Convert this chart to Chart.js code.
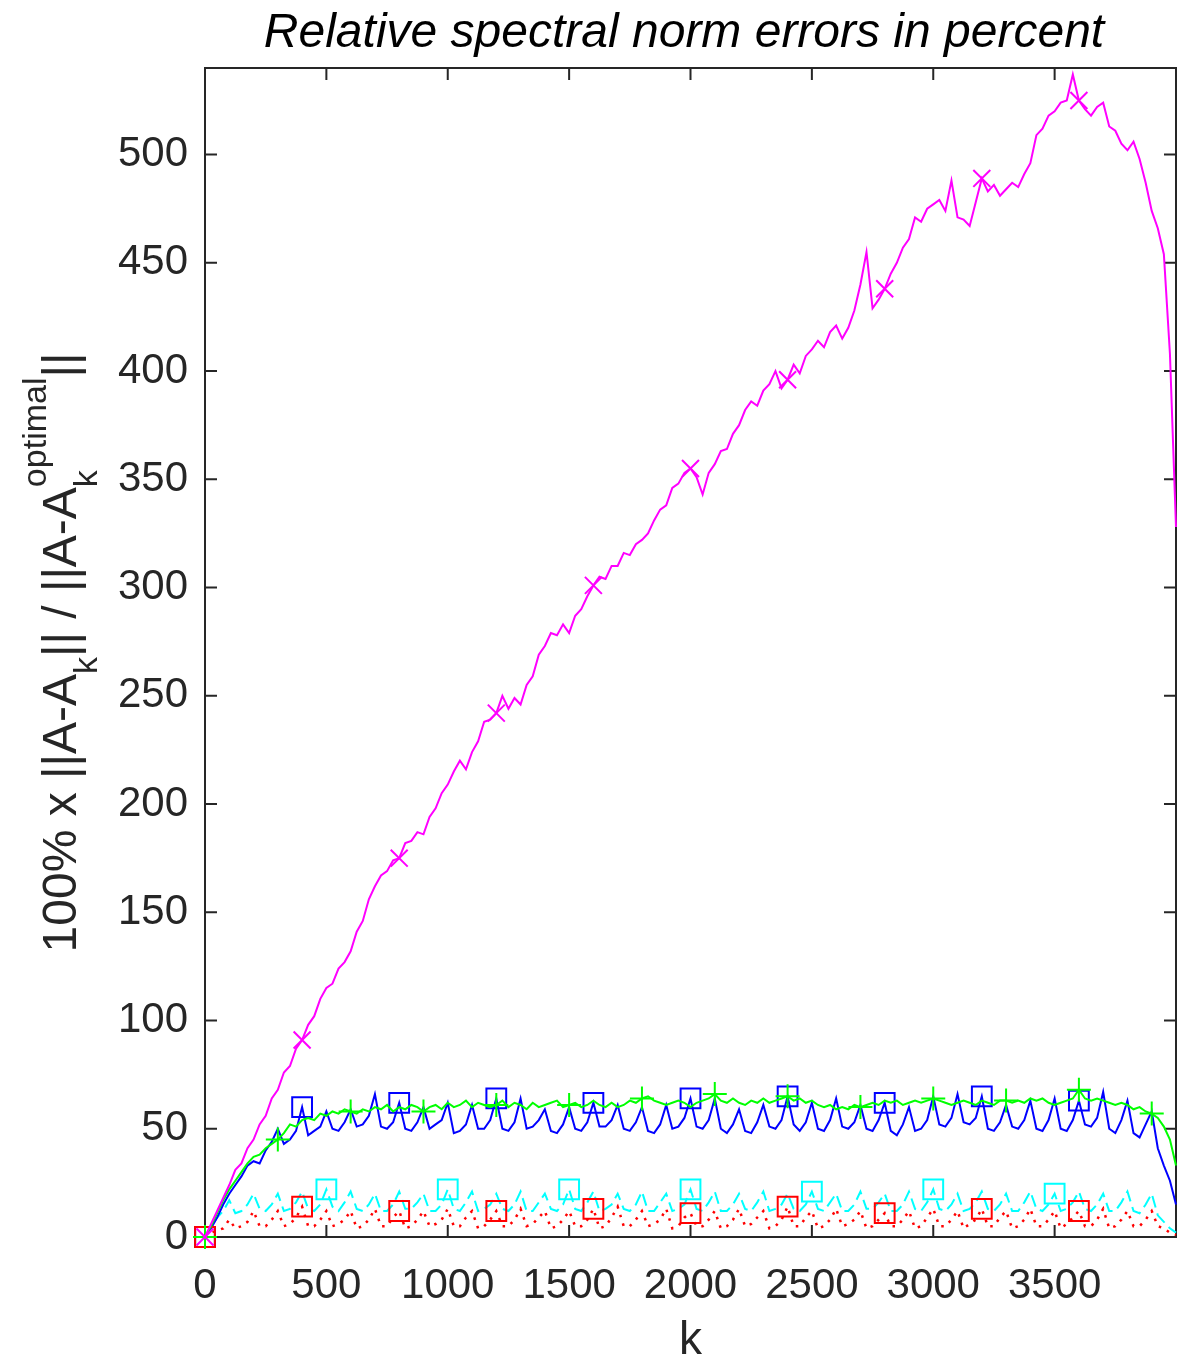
<!DOCTYPE html>
<html>
<head>
<meta charset="utf-8">
<script src="https://cdn.jsdelivr.net/npm/chart.js@4/dist/chart.umd.min.js"></script>
<style>
    html, body { margin: 0; padding: 0; background: #fff; }
    canvas { display: block; }
</style>
</head>
<body>
<canvas id="spectralErrorChart" width="1201" height="1360"></canvas>
<script>
// k sampled every 25 (0 ... 4000), one row per 100
const kStep = 25;

const magentaErr = [
    0, 6, 12, 18,
    24, 31, 34, 41,
    45, 52, 56, 64,
    68, 76, 79, 87,
    91, 98, 102, 110,
    115, 117, 124, 127,
    132, 141, 146, 156,
    162, 167, 169, 174,
    175, 182, 183, 187,
    186, 194, 198, 205,
    209, 215, 220, 216,
    224, 229, 238, 239,
    242, 250, 244, 249,
    246, 255, 259, 269,
    273, 279, 278, 283,
    279, 287, 290, 296,
    301, 305, 304, 310,
    310, 316, 315, 320,
    322, 325, 331, 336,
    338, 346, 348, 353,
    355, 351, 343, 353,
    357, 363, 364, 371,
    375, 382, 386, 384,
    391, 394, 400, 392,
    396, 403, 399, 407,
    410, 414, 411, 418,
    421, 415, 420, 428,
    440, 455, 429, 433,
    438, 445, 450, 457,
    461, 471, 469, 475,
    477, 479, 474, 488,
    471, 470, 467, 478,
    489, 483, 486, 481,
    484, 487, 485, 491,
    496, 509, 512, 518,
    520, 524, 525, 537,
    525, 521, 518, 522,
    524, 513, 511, 505,
    502, 506, 498, 487,
    474, 466, 454, 408,
    328,
];

const greenErr = [
    0, 5, 11, 17,
    22, 26, 30, 34,
    37, 38, 41, 43,
    45, 48, 52, 51,
    54, 55, 54, 57,
    56, 58, 57, 59,
    58, 57, 59, 58,
    60, 59, 61, 58,
    60, 59, 61, 60,
    58, 60, 61, 59,
    62, 60, 61, 63,
    60, 62, 61, 60,
    61, 63, 60, 62,
    61, 59, 62, 60,
    61, 62, 63, 60,
    61, 62, 60, 61,
    63, 61, 60, 62,
    60, 61, 63, 62,
    64, 65, 63, 62,
    61, 62, 63, 62,
    60, 62, 63, 64,
    66, 63, 62, 64,
    62, 61, 63, 62,
    64, 62, 63, 64,
    65, 63, 64, 62,
    63, 61, 60, 61,
    59, 60, 59, 61,
    60, 61, 62, 61,
    63, 62, 63, 61,
    62, 63, 62, 63,
    64, 63, 62, 61,
    62, 63, 62, 61,
    63, 62, 61, 63,
    63, 62, 63, 62,
    64, 63, 64, 62,
    61, 62, 63, 64,
    68, 64, 63, 64,
    63, 62, 61, 62,
    61, 59, 60, 58,
    57, 55, 51, 45,
    33,
];

const blueErr = [
    0, 4, 9, 15,
    20, 24, 28, 33,
    35, 34, 40, 44,
    50, 43, 45, 49,
    60, 47, 49, 51,
    58, 50, 49, 53,
    59, 51, 52, 56,
    66, 51, 50, 53,
    62, 50, 49, 53,
    60, 50, 52, 54,
    62, 48, 49, 52,
    61, 50, 50, 54,
    64, 50, 49, 53,
    64, 50, 51, 54,
    59, 49, 48, 52,
    60, 50, 49, 53,
    62, 51, 51, 54,
    61, 50, 49, 53,
    60, 49, 48, 52,
    61, 50, 51, 55,
    64, 51, 50, 54,
    64, 50, 48, 52,
    59, 49, 48, 53,
    61, 51, 50, 54,
    65, 52, 49, 53,
    62, 50, 49, 54,
    64, 51, 50, 53,
    61, 50, 49, 54,
    62, 49, 47, 52,
    60, 49, 50, 54,
    65, 52, 51, 55,
    66, 53, 52, 55,
    65, 50, 49, 53,
    61, 51, 50, 54,
    63, 50, 49, 54,
    64, 50, 49, 54,
    63, 52, 51, 55,
    67, 50, 48, 54,
    63, 48, 46, 52,
    58, 41, 33, 26,
    15,
];

const cyanErr = [
    0, 5, 9, 12,
    17, 11, 12, 15,
    20, 13, 12, 15,
    20, 12, 13, 16,
    21, 13, 12, 15,
    22, 14, 12, 16,
    21, 13, 12, 15,
    20, 12, 12, 15,
    21, 13, 13, 16,
    20, 12, 12, 15,
    22, 13, 12, 16,
    21, 12, 13, 15,
    20, 13, 12, 15,
    21, 12, 12, 16,
    20, 13, 12, 15,
    22, 13, 12, 16,
    21, 12, 13, 15,
    20, 13, 12, 15,
    21, 12, 12, 16,
    20, 12, 13, 15,
    22, 13, 12, 16,
    21, 12, 12, 15,
    20, 13, 12, 16,
    21, 12, 13, 15,
    20, 13, 12, 15,
    21, 13, 12, 16,
    20, 12, 12, 15,
    21, 13, 13, 16,
    20, 12, 12, 15,
    21, 13, 12, 16,
    22, 13, 12, 15,
    20, 12, 13, 16,
    21, 13, 12, 15,
    20, 12, 12, 16,
    21, 13, 12, 15,
    20, 12, 13, 16,
    21, 13, 12, 15,
    20, 12, 12, 16,
    21, 12, 11, 15,
    20, 10, 7, 4,
    2,
];

const redErr = [
    0, 2, 3, 4,
    8, 4, 5, 7,
    12, 5, 5, 8,
    12, 5, 6, 9,
    14, 5, 5, 8,
    12, 5, 6, 8,
    12, 4, 5, 8,
    13, 5, 5, 9,
    12, 4, 5, 8,
    12, 5, 6, 8,
    13, 5, 5, 9,
    12, 4, 5, 8,
    12, 5, 5, 8,
    13, 5, 6, 9,
    12, 4, 5, 8,
    12, 5, 5, 8,
    13, 4, 5, 9,
    14, 5, 5, 8,
    12, 5, 6, 8,
    13, 4, 5, 9,
    11, 5, 5, 8,
    12, 4, 5, 8,
    13, 5, 6, 9,
    12, 4, 5, 8,
    14, 5, 5, 9,
    12, 4, 5, 8,
    13, 5, 6, 8,
    12, 4, 5, 8,
    11, 5, 5, 8,
    12, 4, 5, 9,
    13, 5, 5, 8,
    12, 4, 6, 8,
    13, 5, 5, 9,
    12, 4, 5, 8,
    13, 5, 5, 8,
    12, 4, 6, 9,
    12, 5, 5, 8,
    13, 4, 5, 8,
    12, 5, 5, 8,
    12, 5, 4, 2,
    1,
];

const kValues = magentaErr.map((_, i) => i * kStep);

const titleText = 'Relative spectral norm errors in percent';
const xLabelText = 'k';
// y label pieces: plain text, subscript, stacked sub + superscript
const yLabelParts = [
    { text: '100% x ||A-A' },
    { sub: 'k' },
    { text: '|| / ||A-A' },
    { sub: 'k', sup: 'optimal' },
    { text: '||' },
];

const axisColor = '#262626';
const fontFamily = '"Liberation Sans", Arial, Helvetica, sans-serif';

function makeSeries(values, color, marker, every, radius, dash, width) {
    const last = values.length - 1;
    return {
        data: values.map((v, i) => ({ x: kValues[i], y: v })),
        borderColor: color,
        borderWidth: width,
        borderDash: dash,
        fill: false,
        tension: 0,
        clip: false,
        pointStyle: marker,
        pointRadius: (ctx) => (ctx.dataIndex % every === 0 && ctx.dataIndex < last ? radius : 0),
        pointHoverRadius: 0,
        pointBorderColor: color,
        pointBackgroundColor: 'rgba(0,0,0,0)',
        pointBorderWidth: 2,
    };
}

const frameAndLabels = {
    id: 'frameAndLabels',
    beforeDatasetsDraw(chart) {
        const { ctx, chartArea: a, scales: { x, y } } = chart;
        const tick = 12;
        ctx.save();
        ctx.strokeStyle = axisColor;
        ctx.lineWidth = 2;
        ctx.strokeRect(a.left, a.top, a.right - a.left, a.bottom - a.top);
        ctx.beginPath();
        x.ticks.forEach((t) => {
            const px = x.getPixelForValue(t.value);
            ctx.moveTo(px, a.bottom);
            ctx.lineTo(px, a.bottom - tick);
            ctx.moveTo(px, a.top);
            ctx.lineTo(px, a.top + tick);
        });
        y.ticks.forEach((t) => {
            const py = y.getPixelForValue(t.value);
            ctx.moveTo(a.left, py);
            ctx.lineTo(a.left + tick, py);
            ctx.moveTo(a.right, py);
            ctx.lineTo(a.right - tick, py);
        });
        ctx.stroke();
        ctx.restore();
    },
    afterDraw(chart) {
        const { ctx, chartArea: a } = chart;
        const midX = (a.left + a.right) / 2;
        const midY = (a.top + a.bottom) / 2;
        ctx.save();
        ctx.fillStyle = '#000';
        ctx.textAlign = 'center';
        ctx.textBaseline = 'alphabetic';
        ctx.font = 'italic 48px ' + fontFamily;
        ctx.fillText(titleText, 684, 47);

        ctx.fillStyle = axisColor;
        ctx.font = '46px ' + fontFamily;
        ctx.fillText(xLabelText, midX, 1354);

        // rotated y label with sub/superscripts
        const mainFont = '48px ' + fontFamily;
        const smallFont = '34px ' + fontFamily;
        const widths = yLabelParts.map((p) => {
            if (p.text) {
                ctx.font = mainFont;
                return ctx.measureText(p.text).width;
            }
            ctx.font = smallFont;
            return Math.max(ctx.measureText(p.sub || '').width, ctx.measureText(p.sup || '').width);
        });
        const total = widths.reduce((s, w) => s + w, 0);
        ctx.translate(76, midY);
        ctx.rotate(-Math.PI / 2);
        ctx.textAlign = 'left';
        let tx = -total / 2;
        yLabelParts.forEach((p, i) => {
            if (p.text) {
                ctx.font = mainFont;
                ctx.fillText(p.text, tx, 0);
            } else {
                ctx.font = smallFont;
                if (p.sub) ctx.fillText(p.sub, tx, 21);
                if (p.sup) ctx.fillText(p.sup, tx, -30);
            }
            tx += widths[i];
        });
        ctx.restore();
    },
};

const canvas = document.getElementById('spectralErrorChart');

// first dataset is drawn on top
new Chart(canvas, {
    type: 'line',
    data: {
        datasets: [
            makeSeries(magentaErr, '#ff00ff', 'crossRot', 16, 12, [], 2),
            makeSeries(greenErr, '#00ff00', 'cross', 12, 12, [], 2),
            makeSeries(redErr, '#ff0000', 'rect', 16, 14, [2.5, 6.5], 2.5),
            makeSeries(blueErr, '#0000ff', 'rect', 16, 14, [], 2),
            makeSeries(cyanErr, '#00ffff', 'rect', 20, 14, [12, 6], 2),
        ],
    },
    options: {
        responsive: false,
        maintainAspectRatio: false,
        animation: false,
        events: [],
        layout: {
            padding: { top: 68, right: 25, left: 0, bottom: 0 },
        },
        plugins: {
            legend: { display: false },
            tooltip: { enabled: false },
            title: { display: false },
        },
        scales: {
            x: {
                type: 'linear',
                min: 0,
                max: 4000,
                afterFit: (scale) => { scale.height = 123; },
                afterBuildTicks: (scale) => {
                    scale.ticks = scale.ticks.filter((t) => t.value < 4000);
                },
                grid: { display: false, drawTicks: false },
                border: { display: false },
                ticks: {
                    stepSize: 500,
                    padding: 24,
                    color: axisColor,
                    maxRotation: 0,
                    autoSkip: false,
                    font: { family: fontFamily, size: 42 },
                    callback: (v) => String(v),
                },
            },
            y: {
                type: 'linear',
                min: 0,
                max: 540,
                afterFit: (scale) => { scale.width = 205; },
                grid: { display: false, drawTicks: false },
                border: { display: false },
                ticks: {
                    stepSize: 50,
                    includeBounds: false,
                    padding: 17,
                    color: axisColor,
                    autoSkip: false,
                    font: { family: fontFamily, size: 42 },
                    callback: (v) => String(v),
                },
            },
        },
    },
    plugins: [frameAndLabels],
});
</script>
</body>
</html>
